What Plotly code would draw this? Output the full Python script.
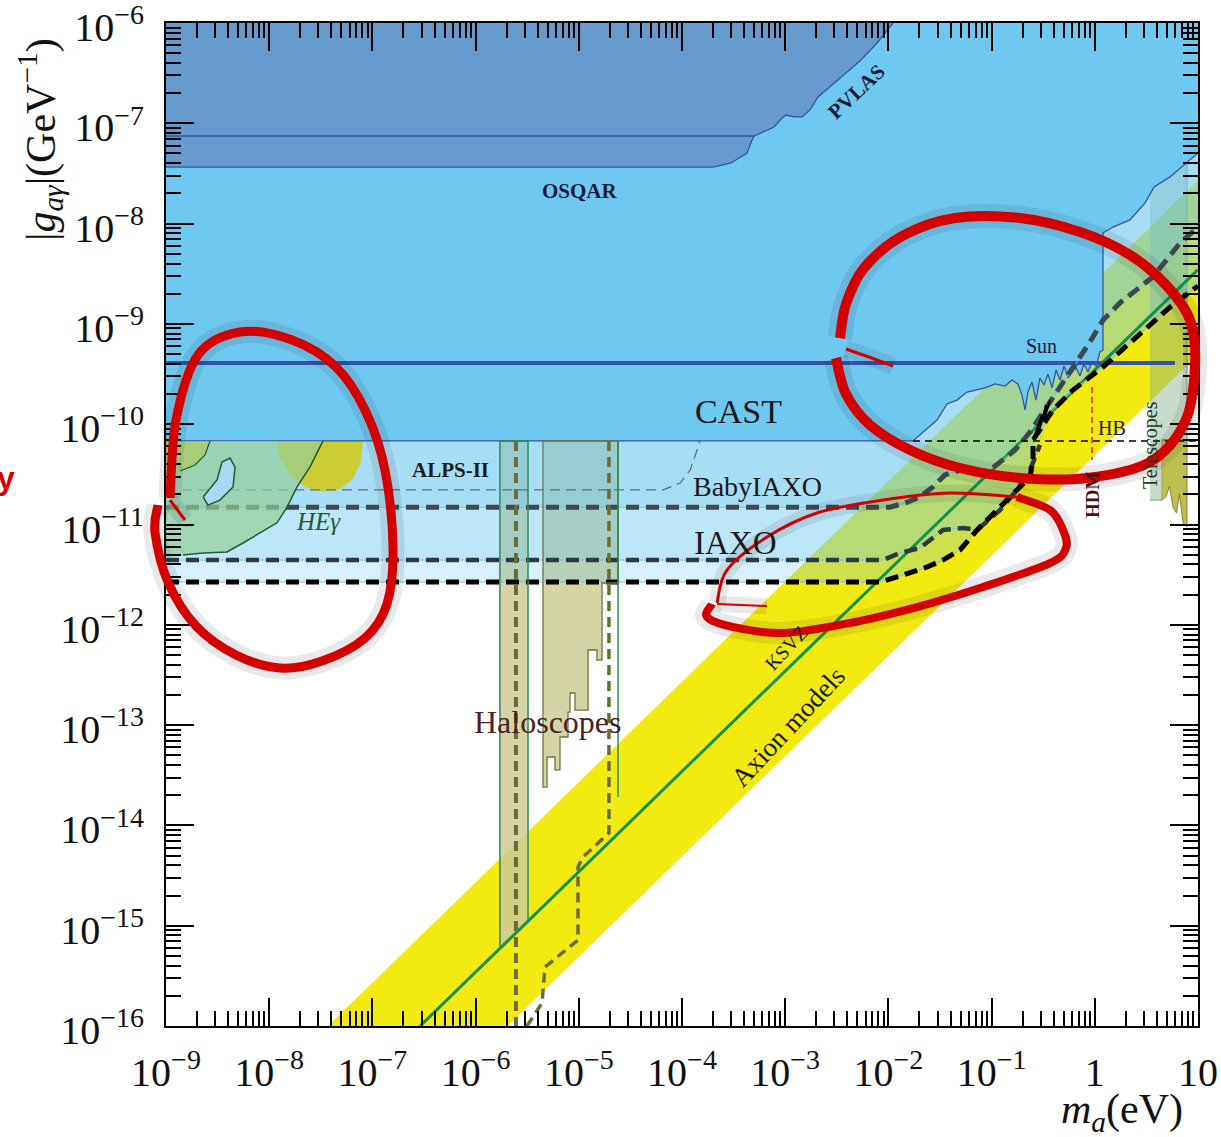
import plotly.graph_objects as go

# ---------------- data (mass m_a in eV, coupling |g_ag| in GeV^-1) ----------------
# QCD axion band and KSVZ line
band_m = [3.7e-8, 10.0, 10.0, 2.04e-6]
band_g = [1e-16, 2.7e-8, 4.9e-10, 1e-16]
ksvz_m = [2.9e-7, 10.0]
ksvz_g = [1e-16, 3.47e-9]

# CAST exclusion boundary
cast_m = [1e-9, 1.73e-2, 2.96e-2, 3.70e-2, 4.62e-2, 5.78e-2, 8.63e-2, 0.108, 0.135, 0.158,
          0.180, 0.197, 0.211, 0.225, 0.246, 0.269, 0.294, 0.322, 0.352, 0.385,
          0.421, 0.460, 0.504, 0.550, 0.601, 0.658, 0.719, 0.785, 0.859, 0.940,
          1.03, 1.12, 1.20, 1.20, 1.50, 2.19, 3.06, 3.75, 5.35, 7.65, 10.0]
cast_g = [6.81e-11, 6.81e-11, 1.10e-10, 1.59e-10, 1.74e-10, 2.09e-10, 2.30e-10, 2.52e-10, 2.40e-10, 2.76e-10,
          2.52e-10, 1.95e-10, 1.39e-10, 2.09e-10, 2.64e-10, 1.74e-10, 2.89e-10, 2.46e-10, 3.16e-10, 2.30e-10,
          3.47e-10, 2.76e-10, 3.80e-10, 2.89e-10, 3.31e-10, 3.63e-10, 3.03e-10, 3.98e-10, 3.31e-10, 4.17e-10,
          3.80e-10, 5.25e-10, 5.50e-10, 8.05e-9, 9.24e-9, 1.09e-8, 1.60e-8, 2.32e-8, 2.92e-8, 4.02e-8, 5.06e-8]

# OSQAR and PVLAS
osqar_m = [1e-9, 2.0e-4, 2.99e-4, 4.27e-4, 4.77e-4, 4.99e-4]
osqar_g = [3.66e-8, 3.66e-8, 4.02e-8, 5.06e-8, 6.81e-8, 7.47e-8]
pvlas_m = [1e-9, 4.99e-4, 7.78e-4, 9.31e-4, 1.02e-3, 1.22e-3, 1.46e-3, 1.74e-3, 2.08e-3, 2.48e-3,
           2.97e-3, 3.88e-3, 5.42e-3, 7.76e-3, 1.11e-2]
pvlas_g = [7.47e-8, 7.47e-8, 9.18e-8, 1.13e-7, 1.21e-7, 1.16e-7, 1.16e-7, 1.36e-7, 1.83e-7, 2.15e-7,
           2.52e-7, 3.17e-7, 4.28e-7, 6.32e-7, 1e-6]

# solar neutrino bound
sun_m = [1e-9, 5.98]
sun_g = [4.07e-10, 4.07e-10]

# ALPS-II, BabyIAXO, IAXO, IAXO+ sensitivities
alps_m = [1e-9, 6.55e-5, 9.58e-5, 1.20e-4, 1.40e-4, 1.49e-4]
alps_g = [2.21e-11, 2.21e-11, 2.59e-11, 3.49e-11, 5.53e-11, 6.81e-11]
baby_m = [1e-9, 1.04e-2, 1.45e-2, 2.02e-2, 2.70e-2, 3.53e-2, 4.94e-2, 6.90e-2, 9.64e-2, 0.135,
          0.169, 0.2355, 0.329, 0.460, 0.643, 0.898, 1.20, 1.75, 3.66, 6.70, 10.0]
baby_g = [1.49e-11, 1.49e-11, 1.64e-11, 1.88e-11, 2.37e-11, 3.12e-11, 3.49e-11, 3.19e-11, 3.49e-11, 4.60e-11,
          5.53e-11, 8.36e-11, 1.39e-10, 2.30e-10, 3.89e-10, 6.61e-10, 1.09e-9, 1.62e-9, 2.94e-9, 6.41e-9, 9.24e-9]
iaxo_m = [1e-9, 8.87e-3, 1.29e-2, 2.02e-2, 3.38e-2, 5.28e-2, 7.23e-2, 0.1205, 0.176, 0.2355, 0.294]
iaxo_g = [4.42e-12, 4.42e-12, 5.20e-12, 5.83e-12, 8.81e-12, 9.23e-12, 8.81e-12, 1.39e-11, 2.21e-11, 3.49e-11, 6.21e-11]
iaxop_m = [1e-9, 8.30e-3, 1.38e-2, 2.37e-2, 3.38e-2, 4.94e-2, 7.23e-2, 0.1205, 0.176, 0.2355,
           0.252, 0.252, 0.394, 0.615, 1.20, 2.56, 5.35, 10.0]
iaxop_g = [2.67e-12, 2.67e-12, 3.13e-12, 3.77e-12, 4.42e-12, 5.57e-12, 8.81e-12, 1.49e-11, 2.21e-11, 2.98e-11,
           4.40e-11, 6.97e-11, 1.39e-10, 2.19e-10, 3.72e-10, 7.40e-10, 1.47e-9, 2.39e-9]
iaxop_fine_m = [0.252, 0.282, 0.269, 0.308, 0.294, 0.337, 0.322, 0.368]
iaxop_fine_g = [6.97e-11, 9.82e-11, 8.36e-11, 1.24e-10, 9.16e-11, 1.55e-10, 1.10e-10, 1.74e-10]

# horizontal branch and hot dark matter
hb_m = [1.73e-2, 10.0]
hb_g = [6.81e-11, 6.81e-11]
hdm_m = [0.94, 0.94]
hdm_g = [2.35e-10, 4.40e-11]

# high-energy photon (HE gamma) hints and contours
heg_m = [1e-9, 3.32e-8, 2.48e-8, 1.86e-8, 1.49e-8, 1.19e-8, 8.15e-9, 5.57e-9, 3.90e-9, 2.29e-9, 1.46e-9, 1e-9]
heg_g = [6.81e-11, 6.81e-11, 3.74e-11, 2.37e-11, 1.49e-11, 1.04e-11, 8.22e-12, 6.54e-12, 5.32e-12, 5.20e-12, 4.97e-12, 4.74e-12]
blob1_m = [1e-9, 2.67e-9, 2.39e-9, 1.91e-9, 1.37e-9, 1e-9]
blob1_g = [6.81e-11, 6.81e-11, 4.93e-11, 3.92e-11, 3.41e-11, 3.26e-11]
blob2_m = [1.19e-8, 1.27e-8, 1.59e-8, 2.22e-8, 3.32e-8, 4.85e-8, 6.34e-8, 7.59e-8, 8.11e-8]
blob2_g = [6.81e-11, 4.60e-11, 3.12e-11, 2.37e-11, 2.11e-11, 2.26e-11, 2.78e-11, 3.92e-11, 6.81e-11]
island_m = [2.29e-9, 2.55e-9, 3.33e-9, 4.46e-9, 4.67e-9, 4.17e-9, 3.49e-9, 3.12e-9, 2.29e-9]
island_g = [1.88e-11, 1.56e-11, 1.75e-11, 2.37e-11, 3.74e-11, 4.60e-11, 4.20e-11, 2.78e-11, 1.88e-11]

# haloscopes
halo1_m = [1.72e-6, 3.22e-6, 3.22e-6, 1.72e-6, 1.72e-6]
halo1_g = [6.81e-11, 6.81e-11, 1.1e-15, 5.8e-16, 6.81e-11]
halo1_proj_m = [2.46e-6, 2.46e-6]
halo1_proj_g = [6.81e-11, 1.0e-16]
halo2_m = [4.50e-6, 2.40e-5, 2.40e-5, 1.68e-5, 1.68e-5, 1.50e-5, 1.50e-5, 1.23e-5, 1.23e-5, 9.19e-6,
           9.19e-6, 8.22e-6, 8.22e-6, 7.86e-6, 7.86e-6, 6.57e-6, 6.57e-6, 5.88e-6, 5.88e-6, 4.92e-6,
           4.92e-6, 4.50e-6, 4.50e-6]
halo2_g = [6.81e-11, 6.81e-11, 2.61e-12, 2.61e-12, 4.45e-13, 4.45e-13, 5.61e-13, 5.61e-13, 1.41e-13, 1.41e-13,
           2.09e-13, 2.09e-13, 1.35e-13, 1.35e-13, 7.61e-14, 7.61e-14, 3.57e-14, 3.57e-14, 4.81e-14, 4.81e-14,
           2.41e-14, 2.41e-14, 6.81e-11]
halo2_wall_m = [2.40e-5, 2.40e-5]
halo2_wall_g = [6.81e-11, 1.92e-14]
halo2_proj_m = [1.96e-5, 1.96e-5, 1.10e-5, 9.82e-6, 9.82e-6, 4.70e-6, 4.40e-6, 3.15e-6]
halo2_proj_g = [6.81e-11, 8.40e-15, 4.84e-15, 3.85e-15, 7.20e-16, 3.87e-16, 1.69e-16, 1.0e-16]

# telescopes
tel_band_m = [3.43, 7.82, 7.82, 4.48, 4.48, 3.43]
tel_band_g = [1e-6, 1e-6, 6.97e-11, 6.97e-11, 1.75e-11, 1.75e-11]
tel_m = [4.48, 7.82, 7.82, 7.16, 6.60, 6.20, 5.73, 5.30, 4.90, 4.48]
tel_g = [6.97e-11, 6.97e-11, 9.44e-12, 1.04e-11, 2.0e-11, 1.3e-11, 1.49e-11, 2.4e-11, 1.9e-11, 1.75e-11]

# axis ticks
x_tick_vals = [1e-9, 1e-8, 1e-7, 1e-6, 1e-5, 1e-4, 1e-3, 1e-2, 1e-1, 1, 10]
x_tick_text = ["10<sup>−9</sup>", "10<sup>−8</sup>", "10<sup>−7</sup>", "10<sup>−6</sup>", "10<sup>−5</sup>",
               "10<sup>−4</sup>", "10<sup>−3</sup>", "10<sup>−2</sup>", "10<sup>−1</sup>", "1", "10"]
y_tick_vals = [1e-16, 1e-15, 1e-14, 1e-13, 1e-12, 1e-11, 1e-10, 1e-9, 1e-8, 1e-7, 1e-6]
y_tick_text = ["10<sup>−16</sup>", "10<sup>−15</sup>", "10<sup>−14</sup>", "10<sup>−13</sup>", "10<sup>−12</sup>",
               "10<sup>−11</sup>", "10<sup>−10</sup>", "10<sup>−9</sup>", "10<sup>−8</sup>", "10<sup>−7</sup>",
               "10<sup>−6</sup>"]

# ---------------- styling ----------------
SERIF = "Liberation Serif"
CAST_BLUE = "#6EC8F0"
DARK_BLUE = "#6699CC"
EDGE_BLUE = "#3352A8"
LAYER = "rgba(110,200,240,{})"
KHAKI = "rgba(204,204,150,0.85)"
HALO_GREEN = "#2E8B57"
OLIVE = "#6B6B35"

fig = go.Figure()


def area(m, g, color, line_color="rgba(0,0,0,0)", width=0):
    fig.add_trace(go.Scatter(x=m, y=g, mode="lines", fill="toself", fillcolor=color,
                             line=dict(color=line_color, width=width),
                             hoverinfo="skip", showlegend=False))


def curve(m, g, color, width, dash="solid"):
    fig.add_trace(go.Scatter(x=m, y=g, mode="lines",
                             line=dict(color=color, width=width, dash=dash),
                             hoverinfo="skip", showlegend=False))


TOP = [10.0, 1e-9], [1e-6, 1e-6]

# axion band
area(band_m, band_g, "#F2EA10")

# haloscope fills (below the helioscope layers)
area(halo1_m, halo1_g, KHAKI)
area(halo2_m, halo2_g, KHAKI)

# telescopes band
area(tel_band_m, tel_band_g, "rgba(130,175,140,0.45)", "rgba(90,140,100,0.8)", 1)
area(tel_m, tel_g, "rgba(180,180,50,0.85)", "rgba(120,120,40,0.9)", 1)

# IAXO+, IAXO and BabyIAXO reach: stacked translucent layers
tail = [(m, g) for m, g in zip(iaxop_m, iaxop_g) if m > iaxo_m[-1]]
iaxo_fill_m = iaxo_m + [t[0] for t in tail]
iaxo_fill_g = iaxo_g + [t[1] for t in tail]
area(iaxop_m + TOP[0], iaxop_g + TOP[1], LAYER.format(0.28))
area(iaxo_fill_m + TOP[0], iaxo_fill_g + TOP[1], LAYER.format(0.25))
area(baby_m + TOP[0], baby_g + TOP[1], LAYER.format(0.28))

# HE gamma olive blobs
area(blob1_m, blob1_g, "#CCCC33")
area(blob2_m, blob2_g, "#CCCC33")

# KSVZ line
curve(ksvz_m, ksvz_g, "#12934A", 3)

# CAST
area([1e-9] + cast_m + TOP[0], [1e-6] + cast_g + TOP[1], CAST_BLUE)
curve(cast_m, cast_g, EDGE_BLUE, 1.3)

# OSQAR / PVLAS
area([1e-9] + osqar_m + pvlas_m[2:], [1e-6] + osqar_g + pvlas_g[2:], DARK_BLUE)
curve(osqar_m, osqar_g, EDGE_BLUE, 1.3)
curve(pvlas_m, pvlas_g, EDGE_BLUE, 1.3)

# Sun bound
curve(sun_m, sun_g, "#3352A8", 4)

# sensitivity lines: thin region edges, then dashes
for m, g in [(baby_m, baby_g), (iaxo_m, iaxo_g), (iaxop_m, iaxop_g)]:
    curve(m, g, "#6CC4EE", 1)
curve(alps_m, alps_g, "#5F6F78", 1.3, "10px,6px")
curve(baby_m, baby_g, "#3C4A50", 5, "13px,7px")
curve(iaxo_m, iaxo_g, "#2C3A40", 4.5, "13px,7px")
curve(iaxop_m, iaxop_g, "#000000", 5, "13px,7px")
curve(iaxop_fine_m, iaxop_fine_g, "#000000", 2)
curve(hb_m, hb_g, "#000000", 1.5, "7px,5px")
curve(hdm_m, hdm_g, "#E02020", 1.5, "6px,4px")

# HE gamma region
area(heg_m, heg_g, "rgba(148,205,152,0.7)")
curve(heg_m[1:-1], heg_g[1:-1], "#1F5A30", 1.5)
curve(blob1_m[1:-1], blob1_g[1:-1], "#1F5A30", 1.2)
area(island_m, island_g, "#A8DAF5", "#1F5A30", 1.5)

# haloscope outlines and projections
curve(halo1_m, halo1_g, HALO_GREEN, 1.5)
curve(halo2_m, halo2_g, "#6F7440", 1.3)
curve(halo2_wall_m, halo2_wall_g, HALO_GREEN, 1.5)
curve(halo1_proj_m, halo1_proj_g, OLIVE, 4, "10px,6px")
curve(halo2_proj_m, halo2_proj_g, OLIVE, 3.5, "10px,6px")

# ---------------- labels ----------------
PX0, PX1, PY0, PY1 = 166, 1198, 1026, 23


def px(x, y):
    return (x - PX0) / (PX1 - PX0), (PY0 - y) / (PY0 - PY1)


def label(text, x, y, size, color="#1A1A1A", angle=0, family=SERIF):
    xp, yp = px(x, y)
    fig.add_annotation(x=xp, y=yp, xref="paper", yref="paper", text=text, showarrow=False,
                       xanchor="center", yanchor="middle", textangle=angle,
                       font=dict(family=family, size=size, color=color))


label("<b>OSQAR</b>", 580, 191, 21, "#1A1A3A")
label("<b>PVLAS</b>", 856, 92, 21, "#1A1A3A", angle=-43)
label("CAST", 738, 411, 34)
label("<b>ALPS-II</b>", 450, 470, 21)
label("BabyIAXO", 757, 487, 28)
label("IAXO", 735, 543, 33)
label("<i>HEγ</i>", 318, 521, 25, "#1F5A30")
label("Haloscopes", 548, 722, 32, "#4A2222")
label("KSVZ", 786, 648, 20, "#1A1A1A", angle=-47)
label("Axion models", 788, 727, 27, "#1A1A1A", angle=-47)
label("Sun", 1041, 346, 20, "#1A1A3A")
label("HB", 1112, 428, 20, "#1A1A1A")
label("<b>HDM</b>", 1092, 495, 19, "#4A1010", angle=-90)
label("Telescopes", 1150, 445, 20, "#1F3A20", angle=-90)
label("|<i>g</i><sub><i>aγ</i></sub>|(GeV<sup>−1</sup>)", 40, 140, 42, "#111111", angle=-90)
label("<i>m</i><sub><i>a</i></sub>(eV)", 1122, 1112, 42, "#111111")
label("<b>y</b>", 6, 478, 32, "#D40000", family="Liberation Sans")

# ---------------- hand-drawn red loops ----------------


def smooth(points):
    p = [px(x, y) for x, y in points]
    d = "M {:.4f},{:.4f}".format(*p[0])
    for i in range(len(p) - 1):
        p0 = p[i - 1] if i > 0 else p[i]
        p1, p2 = p[i], p[i + 1]
        p3 = p[i + 2] if i + 2 < len(p) else p[i + 1]
        c1 = (p1[0] + (p2[0] - p0[0]) / 6, p1[1] + (p2[1] - p0[1]) / 6)
        c2 = (p2[0] - (p3[0] - p1[0]) / 6, p2[1] - (p3[1] - p1[1]) / 6)
        d += " C {:.4f},{:.4f} {:.4f},{:.4f} {:.4f},{:.4f}".format(*c1, *c2, *p2)
    return d


def stroke(points, width):
    path = smooth(points)
    fig.add_shape(type="path", path=path, xref="paper", yref="paper",
                  line=dict(color="rgba(40,40,40,0.10)", width=width + 14))
    fig.add_shape(type="path", path=path, xref="paper", yref="paper",
                  line=dict(color="#D40000", width=width))


stroke([(170, 498), (176, 420), (198, 355), (240, 332), (292, 340), (336, 367), (366, 412),
        (385, 470), (393, 548), (387, 604), (365, 638), (322, 661), (280, 668), (236, 655),
        (196, 626), (168, 582), (155, 532), (158, 505)], 9)
stroke([(170, 500), (185, 520)], 3)
stroke([(893, 366), (866, 356), (846, 349)], 3)
stroke([(836, 358), (846, 394), (870, 425), (910, 450), (960, 468), (1020, 478), (1087, 478),
        (1150, 462), (1185, 422), (1195, 366), (1190, 320), (1166, 285), (1130, 255),
        (1080, 232), (1020, 218), (955, 218), (902, 236), (864, 268), (846, 304), (840, 338)], 10)
stroke([(717, 603), (727, 570), (767, 537), (817, 513), (883, 500), (950, 493), (1017, 497)], 3)
stroke([(1017, 497), (1050, 510), (1063, 530), (1066, 548), (1050, 563), (983, 587),
        (917, 607), (850, 623), (783, 633), (733, 627), (707, 617), (712, 604)], 8)
stroke([(717, 604), (767, 606)], 2)

# ---------------- axes ----------------
minor_x = [k * 10.0 ** e for e in range(-9, 1) for k in range(2, 10)]
minor_y = [k * 10.0 ** e for e in range(-16, -6) for k in range(2, 10)]
axis_common = dict(type="log", showgrid=False, zeroline=False, showline=True, linecolor="black",
                   linewidth=2, mirror="allticks", ticks="inside", ticklen=28, tickwidth=1.6,
                   tickcolor="black", layer="above traces", automargin=False,
                   ticklabeloverflow="allow",
                   tickfont=dict(family=SERIF, size=40, color="#111111"))
fig.update_xaxes(range=[-9.0000001, 1.0000001], tickmode="array", tickvals=x_tick_vals, ticktext=x_tick_text,
                 minor=dict(tickvals=minor_x, ticks="inside", ticklen=15, tickwidth=1.6, tickcolor="black"),
                 ticklabelstandoff=10, **axis_common)
fig.update_yaxes(range=[-16.0000001, -5.9999999], tickmode="array", tickvals=y_tick_vals, ticktext=y_tick_text,
                 minor=dict(tickvals=minor_y, ticks="inside", ticklen=15, tickwidth=1.6, tickcolor="black"),
                 ticklabelstandoff=12, ticklabelshift=4, **axis_common)

fig.update_layout(width=1221, height=1137, margin=dict(l=166, r=23, t=23, b=111, autoexpand=False),
                  plot_bgcolor="white", paper_bgcolor="white", showlegend=False)

fig.write_html("out.html")
